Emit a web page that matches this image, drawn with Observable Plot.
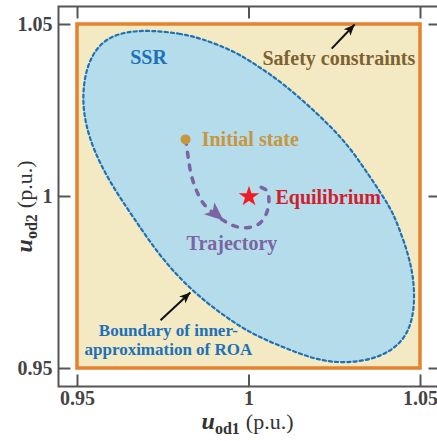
<!DOCTYPE html>
<html>
<head>
<meta charset="utf-8">
<script src="https://cdn.jsdelivr.net/npm/d3@7"></script>
<script src="https://cdn.jsdelivr.net/npm/@observablehq/plot@0.6"></script>
<style>
  html, body { margin: 0; padding: 0; background: #fff; }
  #chart svg { display: block; }
</style>
</head>
<body>
<div id="chart"></div>
<script>
// ---------- data ----------
const xTicks = [0.95, 1, 1.05];
const yTicks = [0.95, 1, 1.05];
const tickLabels = ["0.95", "1", "1.05"];

// safety constraints box
const boxX = [0.95, 1.05];
const boxY = [0.95, 1.05];

// boundary of inner-approximation of ROA (clockwise from top)
const roaX = [0.9713, 0.9800, 0.9859, 0.9955, 1.0025, 1.0101, 1.0200, 1.0287, 1.0354, 1.0413,
              1.0437, 1.0468, 1.0484, 1.0479, 1.0446, 1.0378, 1.0287, 1.0200, 1.0101, 1.0004,
              0.9917, 0.9829, 0.9742, 0.9663, 0.9596, 0.9547, 0.9523, 0.9515, 0.9520, 0.9540,
              0.9582, 0.9646];
const roaY = [1.0483, 1.0474, 1.0460, 1.0424, 1.0380, 1.0328, 1.0241, 1.0154, 1.0055, 0.9968,
              0.9910, 0.9823, 0.9735, 0.9640, 0.9573, 0.9530, 0.9515, 0.9523, 0.9561, 0.9602,
              0.9660, 0.9730, 0.9823, 0.9939, 1.0038, 1.0134, 1.0212, 1.0279, 1.0346, 1.0410,
              1.0460, 1.0480];

// trajectory
const trajX = [0.9815, 0.9818, 0.9824, 0.9832, 0.9847, 0.9867, 0.9894, 0.9926, 0.9961, 0.9999,
               1.0031, 1.0052, 1.0058, 1.0052, 1.0030];
const trajY = [1.0166, 1.0148, 1.0105, 1.0061, 1.0017, 0.9980, 0.9954, 0.9930, 0.9913, 0.9910,
               0.9922, 0.9954, 0.9994, 1.0017, 1.0029];
const trajHeadFrom = [0.9867, 0.9980];
const trajHeadTo = [0.9926, 0.9930];

const initialState = [0.9815, 1.0166];
const equilibrium = [1, 1];

// annotation arrows (black)
const arrowX1 = [1.0241, 0.9742];
const arrowY1 = [1.0430, 0.9640];
const arrowX2 = [1.0308, 0.9829];
const arrowY2 = [1.0500, 0.9721];

// labels
const labelText = ["SSR", "Safety constraints", "Initial state", "Equilibrium", "Trajectory",
                   "Boundary of inner-", "approximation of ROA"];
const labelX = [0.9707, 1.0262, 0.9862, 1.0077, 0.9818, 0.9765, 0.9765];
const labelY = [1.0403, 1.0402, 1.0164, 0.9998, 0.9862, 0.9609, 0.9554];

const xLabelParts = ["u", "od1", "(p.u.)"];
const yLabelParts = ["u", "od2", "(p.u.)"];

// ---------- build ----------
const xDomain = [0.94446, 1.05583];
const yDomain = [0.94477, 1.05523];
const W = 437, H = 441, mL = 58, mT = 6, mB = 55, mR = -3;
const xPerPx = (xDomain[1] - xDomain[0]) / (W - mL - mR);
const yPerPx = (yDomain[1] - yDomain[0]) / (H - mT - mB);
const tickLen = 12;

const roa = roaX.map((x, i) => ({x, y: roaY[i]}));
const traj = trajX.map((x, i) => ({x, y: trajY[i]}));
const box = [{x1: boxX[0], x2: boxX[1], y1: boxY[0], y2: boxY[1]}];
const deg = (a, b) => Math.atan2((b[0] - a[0]) / xPerPx, (b[1] - a[1]) / yPerPx) * 180 / Math.PI;
const annArrows = arrowX1.map((x1, i) => ({
  x1, y1: arrowY1[i], x2: arrowX2[i], y2: arrowY2[i],
  rot: deg([x1, arrowY1[i]], [arrowX2[i], arrowY2[i]])
}));
const trajHead = [{x: trajHeadTo[0], y: trajHeadTo[1], rot: deg(trajHeadFrom, trajHeadTo)}];

// inward tick segments on all four sides
const tickSegs = [
  ...xTicks.map(x => ({x1: x, x2: x, y1: yDomain[0], y2: yDomain[0] + tickLen * yPerPx})),
  ...xTicks.map(x => ({x1: x, x2: x, y1: yDomain[1], y2: yDomain[1] - tickLen * yPerPx})),
  ...yTicks.map(y => ({y1: y, y2: y, x1: xDomain[0], x2: xDomain[0] + tickLen * xPerPx})),
  ...yTicks.map(y => ({y1: y, y2: y, x1: xDomain[1], x2: xDomain[1] - tickLen * xPerPx}))
];

const labelColors = ["#1d71b8", "#7d6230", "#c8963c", "#cf1f2f", "#7c64a4", "#1d71b8", "#1d71b8"];
const labelSizes = [20, 20, 20, 20, 20, 17, 17];
const labelAnchors = ["middle", "middle", "start", "start", "start", "middle", "middle"];
const labels = labelText.map((t, i) => ({
  t, x: labelX[i], y: labelY[i], c: labelColors[i], s: labelSizes[i], a: labelAnchors[i]
}));

const headShape = {
  draw(context, l) {
    const w = l * 0.42;
    context.moveTo(0, -l);
    context.lineTo(w, 0);
    context.lineTo(0, -l * 0.25);
    context.lineTo(-w, 0);
    context.closePath();
  }
};

const frameColor = "#555";
const tickFont = {fontSize: 20, fontWeight: "bold", fill: "#444"};

const marks = [
  // constraint box
  Plot.rect(box, {x1: "x1", x2: "x2", y1: "y1", y2: "y2", fill: "#f3e9c2", stroke: "#e5822d", strokeWidth: 3.5}),
  // ROA region
  Plot.line(roa, {x: "x", y: "y", curve: "basis-closed", fill: "#b4dcea", stroke: "#1d71b8",
    strokeWidth: 2.2, strokeDasharray: "3.2,3"}),
  // trajectory
  Plot.line(traj, {x: "x", y: "y", curve: "catmull-rom", stroke: "#7c64a4", strokeWidth: 3.5,
    strokeDasharray: "5,8", strokeLinecap: "round"}),
  Plot.vector(trajHead, {x: "x", y: "y", rotate: "rot", length: 19, anchor: "end", shape: headShape,
    fill: "#7c64a4", stroke: "none"}),
  // annotation arrows
  Plot.link(annArrows, {x1: "x1", y1: "y1", x2: "x2", y2: "y2", stroke: "#111", strokeWidth: 2}),
  Plot.vector(annArrows, {x: "x2", y: "y2", rotate: "rot", length: 11, anchor: "end", shape: headShape,
    fill: "#111", stroke: "none"}),
  // points
  Plot.dot([initialState], {x: d => d[0], y: d => d[1], r: 5, fill: "#c8963c", stroke: "none"}),
  Plot.dot([equilibrium], {x: d => d[0], y: d => d[1], symbol: "star", r: 6.5, fill: "#ee1c24", stroke: "none"}),
  // labels
  Plot.text(labels.filter(d => d.a === "start"), {x: "x", y: "y", text: "t", fill: d => d.c, fontSize: 20,
    textAnchor: "start", fontWeight: "bold"}),
  Plot.text(labels.filter(d => d.a === "middle" && d.s === 20), {x: "x", y: "y", text: "t", fill: d => d.c,
    fontSize: 20, fontWeight: "bold"}),
  Plot.text(labels.filter(d => d.a === "middle" && d.s === 17), {x: "x", y: "y", text: "t", fill: d => d.c,
    fontSize: 17, fontWeight: "bold"}),
  // frame
  Plot.frame({stroke: frameColor, strokeWidth: 2}),
  // inward ticks
  Plot.link(tickSegs, {x1: "x1", y1: "y1", x2: "x2", y2: "y2", stroke: frameColor, strokeWidth: 2}),
  // tick labels
  Plot.axisX(xTicks, {anchor: "bottom", tickSize: 0, tickPadding: 4, label: null,
    tickFormat: (d, i) => tickLabels[i], ...tickFont}),
  Plot.axisY(yTicks, {anchor: "left", tickSize: 0, tickPadding: 6, label: null,
    tickFormat: (d, i) => tickLabels[i], ...tickFont}),
  // axis labels (rich text applied afterwards)
  Plot.text([xLabelParts.join(" ")], {frameAnchor: "bottom", lineAnchor: "bottom", textAnchor: "middle",
    dy: 42, dx: -2, text: d => d, fill: "#333"}),
  Plot.text([yLabelParts.join(" ")], {frameAnchor: "left", lineAnchor: "bottom", textAnchor: "middle",
    rotate: -90, dx: -27, dy: 10, text: d => d, fill: "#333"})
];

const svg = Plot.plot({
  width: W,
  height: H,
  marginLeft: mL,
  marginTop: mT,
  marginBottom: mB,
  marginRight: mR,
  style: {fontFamily: "'Liberation Serif', 'Times New Roman', serif", background: "#fff"},
  x: {domain: xDomain, axis: null},
  y: {domain: yDomain, axis: null},
  marks
});

function richLabel(parts) {
  const key = parts.join(" ");
  d3.select(svg).selectAll("text").filter(function() { return this.textContent === key; }).each(function() {
    const t = d3.select(this);
    t.attr("text-anchor", "middle");
    t.text(null);
    t.append("tspan").attr("font-style", "italic").attr("font-weight", "bold").attr("font-size", 24).text(parts[0]);
    t.append("tspan").attr("font-weight", "bold").attr("font-size", 16).attr("dy", 5).text(parts[1]);
    t.append("tspan").attr("font-weight", "normal").attr("font-size", 22).attr("dy", -5).attr("dx", 6).text(parts[2]);
  });
}
richLabel(xLabelParts);
richLabel(yLabelParts);

document.getElementById("chart").appendChild(svg);
</script>
</body>
</html>
